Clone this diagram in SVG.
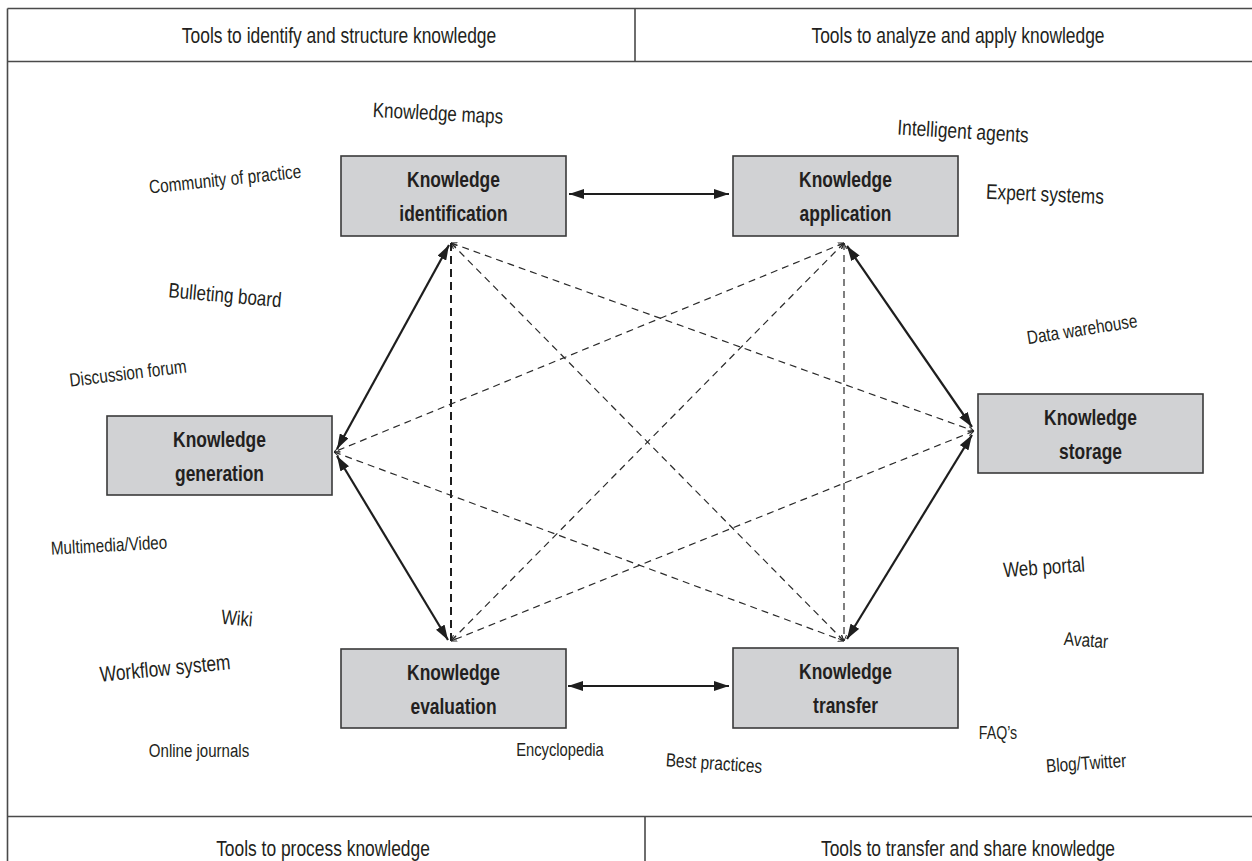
<svg xmlns="http://www.w3.org/2000/svg" width="1252" height="861" viewBox="0 0 1252 861">
<style>
  text { font-family: "Liberation Sans", Arial, sans-serif; fill: #231f20; text-anchor: middle; }
  .hdr { font-size: 21.5px; }
  .nt { font-size: 21.5px; font-weight: bold; }
  .box { fill: #d1d2d4; stroke: #3a3a3a; stroke-width: 1.6; }
  .frame { stroke: #4a4a4a; stroke-width: 1.6; fill: none; }
  .solid { stroke: #1e1e1e; stroke-width: 2.2; fill: none; marker-start: url(#ah); marker-end: url(#ah); }
  .dash { stroke: #2a2a2a; stroke-width: 1.2; fill: none; stroke-dasharray: 7 5; marker-start: url(#tip); marker-end: url(#tip); }
  .dashb { stroke: #1e1e1e; stroke-width: 2; fill: none; stroke-dasharray: 8 5; }
</style>
<defs>
  <marker id="ah" viewBox="0 0 15 10" refX="15" refY="5" markerWidth="15" markerHeight="10" markerUnits="userSpaceOnUse" orient="auto-start-reverse">
    <path d="M0,0 L15,5 L0,10 z" fill="#1e1e1e"/>
  </marker>
  <marker id="tip" viewBox="0 0 6 6" refX="6" refY="3" markerWidth="6" markerHeight="6" markerUnits="userSpaceOnUse" orient="auto-start-reverse">
    <path d="M0,0.5 L6,3 L0,5.5" fill="none" stroke="#2a2a2a" stroke-width="1"/>
  </marker>
</defs>
<rect width="1252" height="861" fill="#ffffff"/>

<g id="frame">
  <line class="frame" x1="7.5" y1="8.5" x2="1252" y2="8.5"/>
  <line class="frame" x1="7.5" y1="8.5" x2="7.5" y2="861"/>
  <line class="frame" x1="7.5" y1="61.5" x2="1252" y2="61.5"/>
  <line class="frame" x1="635" y1="8.5" x2="635" y2="61.5"/>
  <line class="frame" x1="7.5" y1="816.5" x2="1252" y2="816.5"/>
  <line class="frame" x1="645" y1="816.5" x2="645" y2="861"/>
  <text class="hdr" transform="translate(339 42.5) scale(0.81 1)">Tools to identify and structure knowledge</text>
  <text class="hdr" transform="translate(958 42.5) scale(0.81 1)">Tools to analyze and apply knowledge</text>
  <text class="hdr" transform="translate(323 855.5) scale(0.81 1)">Tools to process knowledge</text>
  <text class="hdr" transform="translate(968 855.5) scale(0.81 1)">Tools to transfer and share knowledge</text>
</g>

<g id="connectors">
  <line class="dash" x1="451" y1="243" x2="974" y2="431"/>
  <line class="dash" x1="451" y1="243" x2="844" y2="641"/>
  <line class="dashb" x1="451" y1="243" x2="451" y2="641"/>
  <line class="dash" x1="844" y1="243" x2="334" y2="452"/>
  <line class="dash" x1="844" y1="243" x2="451" y2="641"/>
  <line class="dash" x1="844" y1="243" x2="844" y2="641"/>
  <line class="dash" x1="334" y1="452" x2="844" y2="641"/>
  <line class="dash" x1="974" y1="431" x2="451" y2="641"/>
  <line class="solid" x1="569" y1="194" x2="729" y2="194"/>
  <line class="solid" x1="568" y1="686" x2="729" y2="686"/>
  <line class="solid" x1="449" y1="245" x2="337" y2="449"/>
  <line class="solid" x1="337" y1="456" x2="448" y2="640"/>
  <line class="solid" x1="847" y1="246" x2="972" y2="427"/>
  <line class="solid" x1="972" y1="435" x2="847" y2="639"/>
</g>

<g id="node-identification">
  <rect class="box" x="341" y="156" width="225" height="80"/>
  <text class="nt" transform="translate(453.5 187) scale(0.81 1)">Knowledge</text>
  <text class="nt" transform="translate(453.5 221) scale(0.81 1)">identification</text>
</g>
<g id="node-application">
  <rect class="box" x="733" y="156" width="225" height="80"/>
  <text class="nt" transform="translate(845.5 187) scale(0.81 1)">Knowledge</text>
  <text class="nt" transform="translate(845.5 221) scale(0.81 1)">application</text>
</g>
<g id="node-generation">
  <rect class="box" x="107" y="416" width="225" height="79"/>
  <text class="nt" transform="translate(219.5 447) scale(0.81 1)">Knowledge</text>
  <text class="nt" transform="translate(219.5 481) scale(0.81 1)">generation</text>
</g>
<g id="node-storage">
  <rect class="box" x="978" y="394" width="225" height="79"/>
  <text class="nt" transform="translate(1090.5 425) scale(0.81 1)">Knowledge</text>
  <text class="nt" transform="translate(1090.5 459) scale(0.81 1)">storage</text>
</g>
<g id="node-evaluation">
  <rect class="box" x="341" y="649" width="225" height="79"/>
  <text class="nt" transform="translate(453.5 680) scale(0.81 1)">Knowledge</text>
  <text class="nt" transform="translate(453.5 714) scale(0.81 1)">evaluation</text>
</g>
<g id="node-transfer">
  <rect class="box" x="733" y="648" width="225" height="80"/>
  <text class="nt" transform="translate(845.5 679) scale(0.81 1)">Knowledge</text>
  <text class="nt" transform="translate(845.5 713) scale(0.81 1)">transfer</text>
</g>

<g id="tool-labels">
  <text font-size="21" transform="rotate(3 438 113) translate(438 120.3) scale(0.81 1)">Knowledge maps</text>
  <text font-size="19" transform="rotate(-6 225 179) translate(225 185.6) scale(0.81 1)">Community of practice</text>
  <text font-size="21" transform="rotate(5 225 295) translate(225 302.3) scale(0.81 1)">Bulleting board</text>
  <text font-size="19" transform="rotate(-7 128 373) translate(128 379.6) scale(0.81 1)">Discussion forum</text>
  <text font-size="18.8" transform="rotate(-3 109 545) translate(109 551.6) scale(0.81 1)">Multimedia/Video</text>
  <text font-size="20.5" transform="rotate(5 237 618) translate(237 625.2) scale(0.81 1)">Wiki</text>
  <text font-size="21.5" transform="rotate(-5.5 165 668) translate(165 675.5) scale(0.81 1)">Workflow system</text>
  <text font-size="18.6" transform="translate(199 756.5) scale(0.81 1)">Online journals</text>
  <text font-size="18.2" transform="translate(560 756.4) scale(0.81 1)">Encyclopedia</text>
  <text font-size="19" transform="rotate(4 714 763) translate(714 769.6) scale(0.81 1)">Best practices</text>
  <text font-size="21.5" transform="rotate(3.5 963 131) translate(963 138.5) scale(0.81 1)">Intelligent agents</text>
  <text font-size="21.3" transform="rotate(2.5 1045 194) translate(1045 201.4) scale(0.81 1)">Expert systems</text>
  <text font-size="18.9" transform="rotate(-9 1082 329) translate(1082 335.6) scale(0.81 1)">Data warehouse</text>
  <text font-size="21" transform="rotate(-4 1044 567) translate(1044 574.3) scale(0.81 1)">Web portal</text>
  <text font-size="19" transform="rotate(4 1086 640) translate(1086 646.6) scale(0.81 1)">Avatar</text>
  <text font-size="17.5" transform="translate(998 739) scale(0.81 1)">FAQ’s</text>
  <text font-size="19" transform="rotate(-4 1086 763) translate(1086 769.6) scale(0.81 1)">Blog/Twitter</text>
</g>
</svg>
